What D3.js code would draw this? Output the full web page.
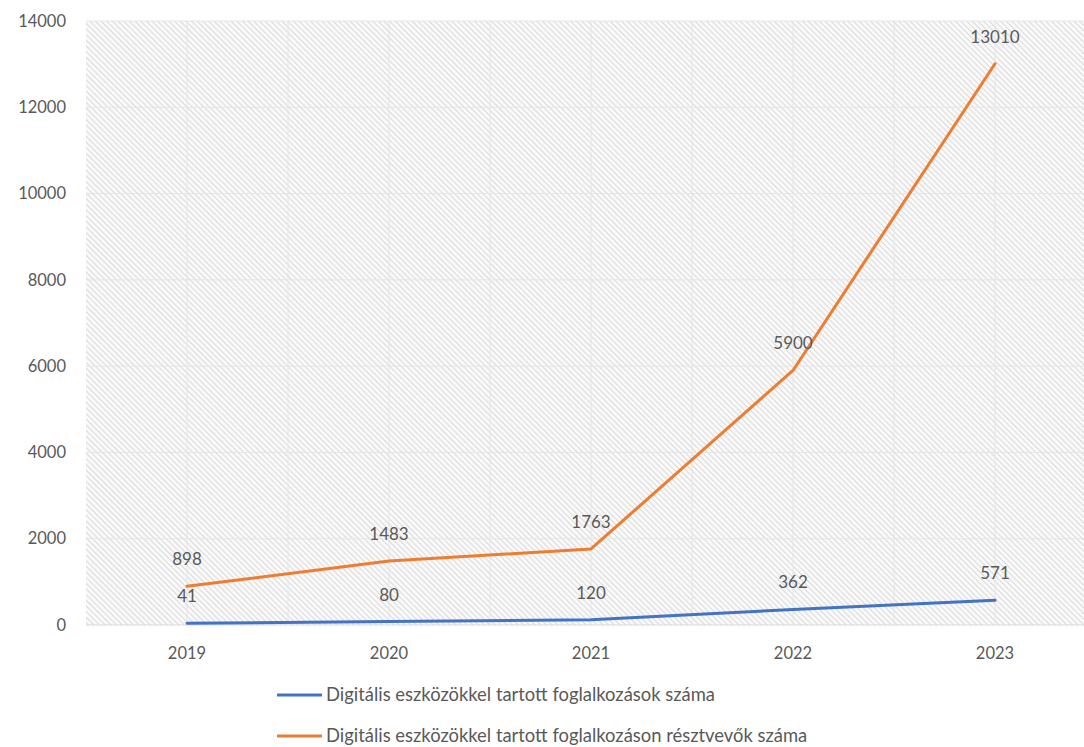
<!DOCTYPE html>
<html>
<head>
<meta charset="utf-8">
<script src="https://cdn.jsdelivr.net/npm/d3@7"></script>
<style>
  body { margin: 0; background: #fff; }
  text { font-family: Lato, "Open Sans", sans-serif; fill: #595959; }
</style>
</head>
<body>
<div id="chart"></div>
<script>
// data
var years = ["2019", "2020", "2021", "2022", "2023"];
var sessions = [41, 80, 120, 362, 571];
var participants = [898, 1483, 1763, 5900, 13010];
var seriesNames = [
  "Digitális eszközökkel tartott foglalkozások száma",
  "Digitális eszközökkel tartott foglalkozáson résztvevők száma"
];
var seriesColors = ["#4472c4", "#ed7d31"];
var yTicks = [0, 2000, 4000, 6000, 8000, 10000, 12000, 14000];

var width = 1084, height = 747;
var margin = {top: 21, left: 86};
var plotRight = 1096, plotBottom = 625;

var svg = d3.select("#chart").append("svg")
  .attr("width", width)
  .attr("height", height);

// hatch pattern, lines going down to the right
var defs = svg.append("defs");
var pat = defs.append("pattern")
  .attr("id", "hatch")
  .attr("patternUnits", "userSpaceOnUse")
  .attr("width", 4).attr("height", 4)
  .attr("patternTransform", "rotate(-45)");
pat.append("rect").attr("width", 4).attr("height", 4).attr("fill", "#f9f9f9");
pat.append("line")
  .attr("x1", 0).attr("y1", 0).attr("x2", 0).attr("y2", 4)
  .attr("stroke", "#d3d3d3").attr("stroke-width", 1.6);

var xScale = d3.scaleBand().domain(years).range([margin.left, plotRight]);
var yScale = d3.scaleLinear().domain([0, 14000]).range([plotBottom, margin.top]);
var cx = function(d) { return xScale(d) + xScale.bandwidth() / 2; };

svg.append("rect")
  .attr("x", margin.left).attr("y", margin.top)
  .attr("width", plotRight - margin.left)
  .attr("height", plotBottom - margin.top)
  .attr("fill", "url(#hatch)");

// horizontal gridlines
svg.append("g").selectAll("line")
  .data(yTicks)
  .join("line")
  .attr("x1", margin.left).attr("x2", plotRight)
  .attr("y1", d => yScale(d)).attr("y2", d => yScale(d))
  .attr("stroke", d => d === 0 ? "#d9d9d9" : "#e6e6e6")
  .attr("stroke-width", 1);

// vertical gridlines (centres and band edges)
var vlines = [];
years.forEach(function(y) { vlines.push(xScale(y)); vlines.push(cx(y)); });
svg.append("g").selectAll("line")
  .data(vlines.filter(v => v > margin.left))
  .join("line")
  .attr("x1", d => d).attr("x2", d => d)
  .attr("y1", margin.top).attr("y2", plotBottom)
  .attr("stroke", "#e6e6e6")
  .attr("stroke-width", 1);

// y axis labels
svg.append("g").selectAll("text")
  .data(yTicks)
  .join("text")
  .attr("x", 66)
  .attr("y", d => yScale(d))
  .attr("dy", "0.35em")
  .attr("text-anchor", "end")
  .attr("font-size", 16.5)
  .text(d => d);

// x axis labels
svg.append("g").selectAll("text")
  .data(years)
  .join("text")
  .attr("x", d => cx(d))
  .attr("y", 653)
  .attr("dy", "0.35em")
  .attr("text-anchor", "middle")
  .attr("font-size", 16.5)
  .text(d => d);

// lines
var series = [sessions, participants];
var line = d3.line()
  .x((d, i) => cx(years[i]))
  .y(d => yScale(d));

series.forEach(function(vals, k) {
  svg.append("path")
    .datum(vals)
    .attr("d", line)
    .attr("fill", "none")
    .attr("stroke", seriesColors[k])
    .attr("stroke-width", 3)
    .attr("stroke-linejoin", "round")
    .attr("stroke-linecap", "round");
});

// data labels
series.forEach(function(vals, k) {
  svg.append("g").selectAll("text")
    .data(vals)
    .join("text")
    .attr("x", (d, i) => cx(years[i]))
    .attr("y", d => yScale(d) - 21)
    .attr("text-anchor", "middle")
    .attr("font-size", 17)
    .attr("fill", "#404040")
    .text(d => d);
});

// legend
var legend = svg.append("g");
seriesNames.forEach(function(name, k) {
  var ly = 695 + k * 41;
  legend.append("line")
    .attr("x1", 277).attr("x2", 322)
    .attr("y1", ly).attr("y2", ly)
    .attr("stroke", seriesColors[k])
    .attr("stroke-width", 3);
  legend.append("text")
    .attr("x", 326).attr("y", ly)
    .attr("dy", "0.35em")
    .attr("font-size", 18.4)
    .text(name);
});
</script>
</body>
</html>
